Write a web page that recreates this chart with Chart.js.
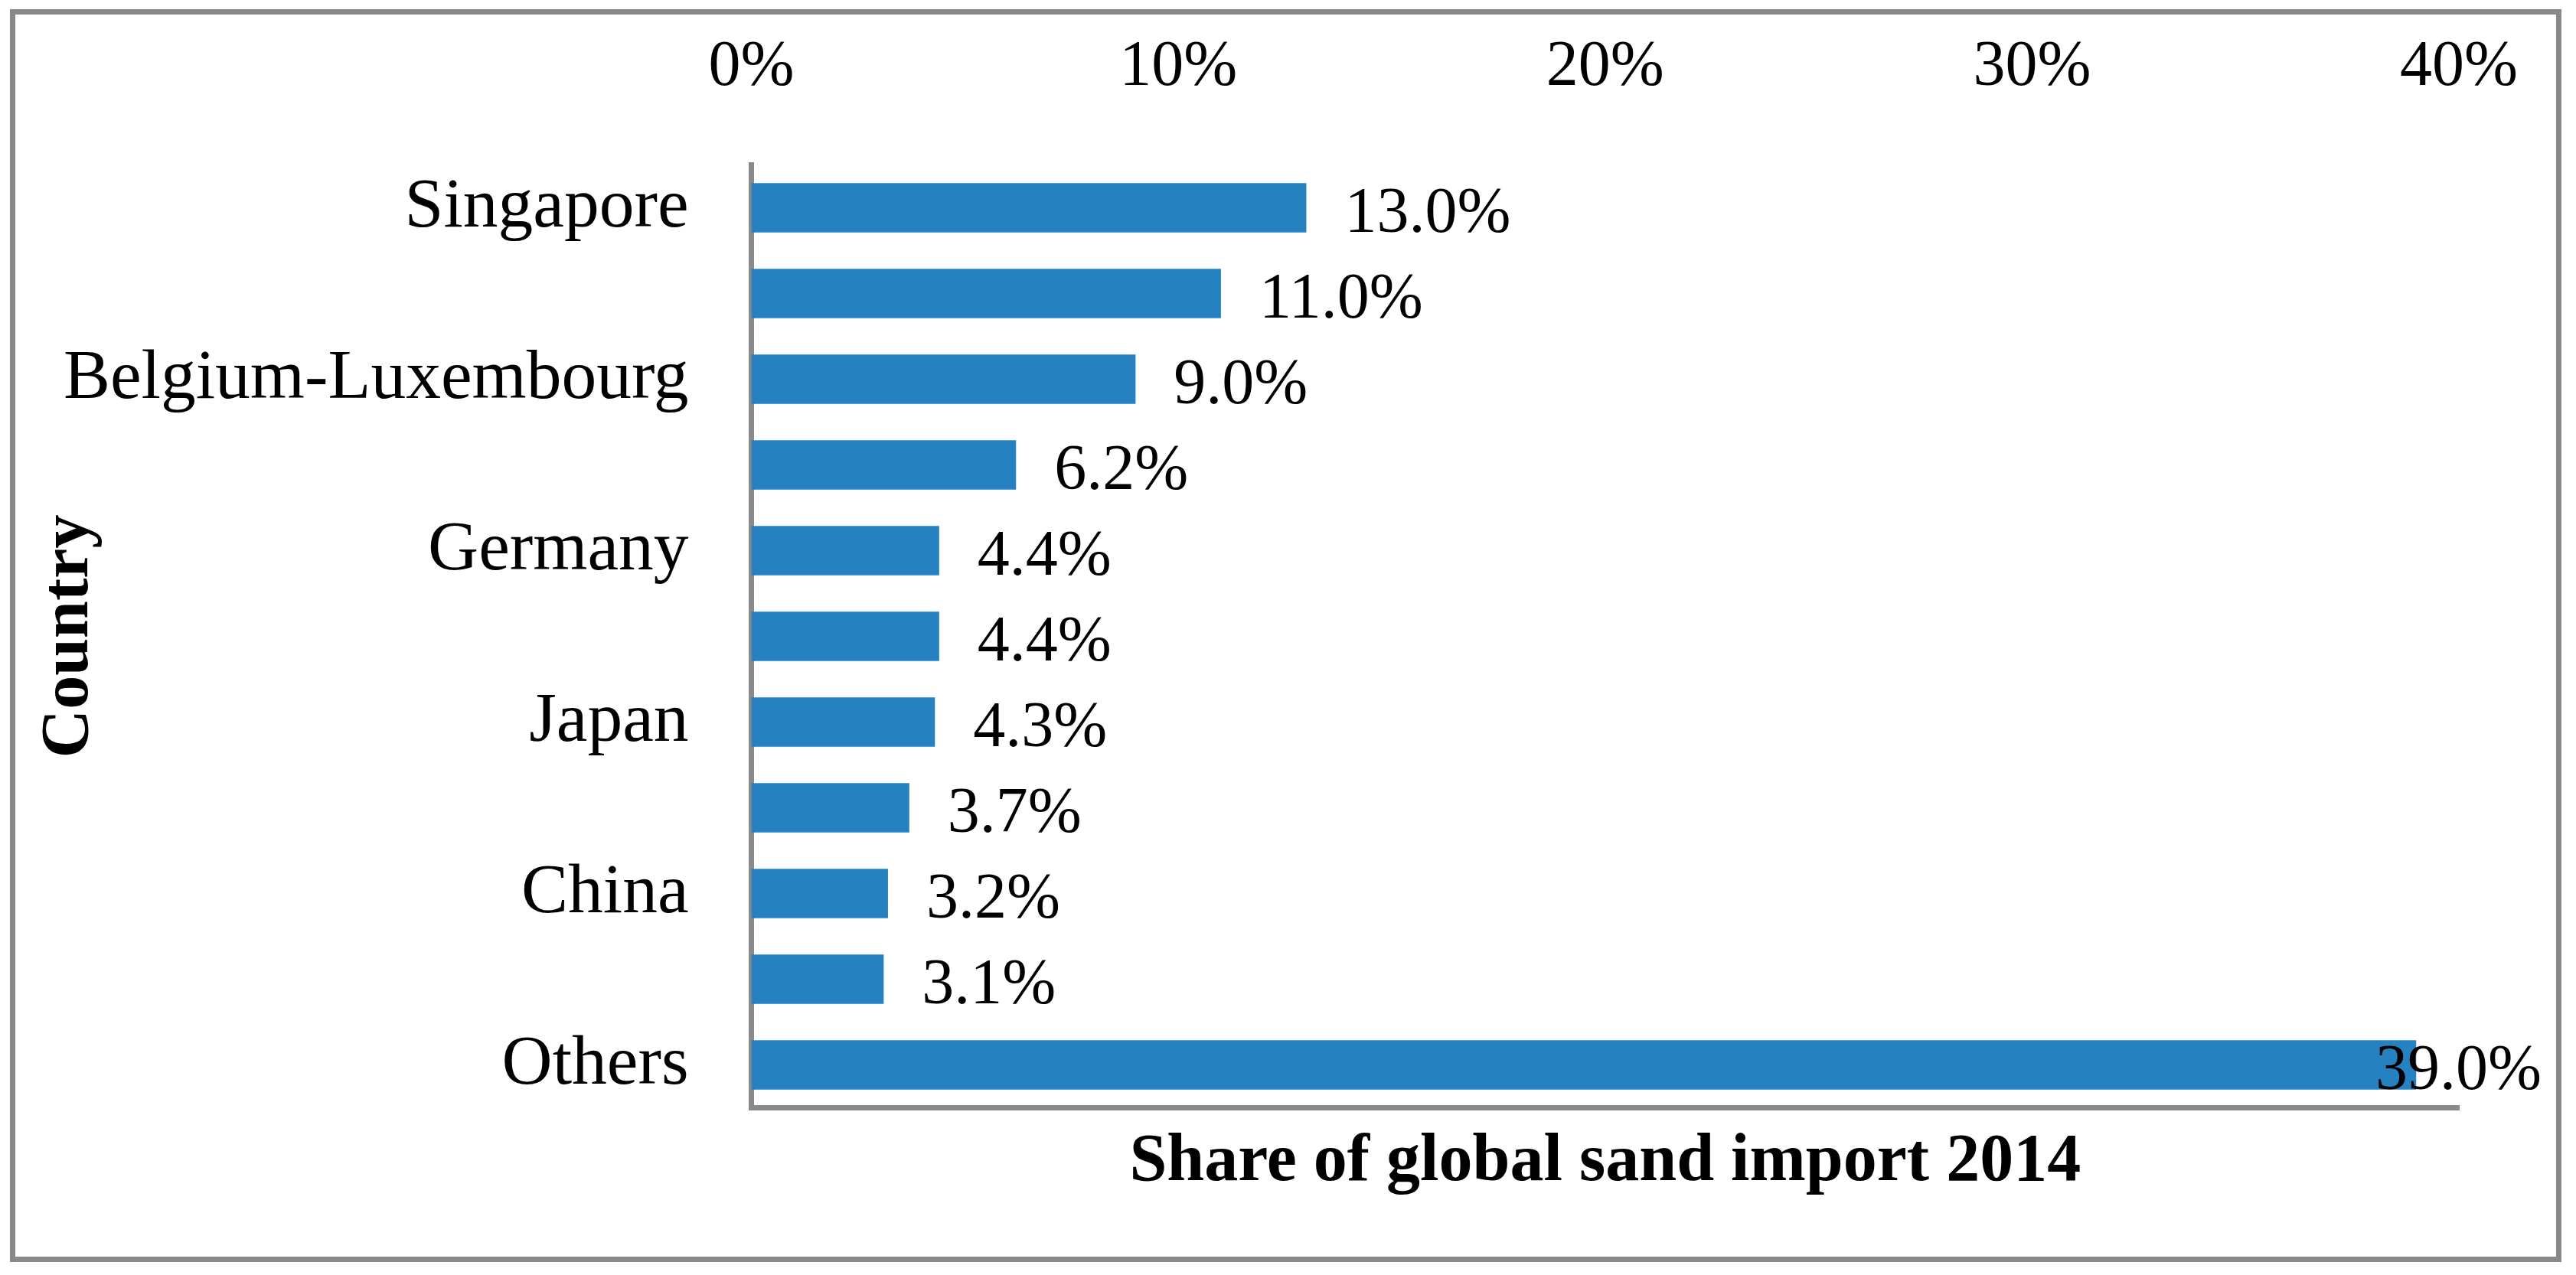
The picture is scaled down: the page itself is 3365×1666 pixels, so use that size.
<!DOCTYPE html>
<html>
<head>
<meta charset="utf-8">
<script src="https://cdn.jsdelivr.net/npm/chart.js@4/dist/chart.umd.min.js"></script>
<style>
  html, body { margin: 0; padding: 0; background: #fff; }
  canvas { display: block; }
</style>
</head>
<body>
<canvas id="myChart" width="3365" height="1666"></canvas>
<script>
// data
const countries = ['Singapore', '', 'Belgium-Luxembourg', '', 'Germany', '', 'Japan', '', 'China', '', 'Others'];
const shares = [13.0, 11.0, 9.0, 6.2, 4.4, 4.4, 4.3, 3.7, 3.2, 3.1, 39.0];
const xTicks = [0, 10, 20, 30, 40];

const barColor = '#2581c0';
const grey = '#898989';
const serif = "'Liberation Serif', 'DejaVu Serif', serif";

// cornice grigia attorno al grafico
const framePlugin = {
  id: 'frame',
  afterDraw: (chart) => {
    const { ctx } = chart;
    ctx.save();
    ctx.strokeStyle = grey;
    ctx.lineWidth = 7;
    ctx.strokeRect(16.5, 15.5, 3326, 1630);
    ctx.restore();
  }
};

// etichette valori a destra delle barre
const labelPlugin = {
  id: 'valueLabels',
  afterDatasetsDraw: (chart) => {
    const { ctx } = chart;
    const meta = chart.getDatasetMeta(0);
    ctx.save();
    ctx.font = '84px ' + serif;
    ctx.fillStyle = '#000';
    ctx.textAlign = 'left';
    ctx.textBaseline = 'alphabetic';
    meta.data.forEach((bar, i) => {
      const txt = shares[i].toFixed(1) + '%';
      const w = ctx.measureText(txt).width;
      let x = bar.x + 50;
      if (x + w > 3320) x = 3320 - w;   // come Excel: resta dentro l'area
      ctx.fillText(txt, x, bar.y + 31);
    });
    ctx.restore();
  }
};

new Chart('myChart', {
  type: 'bar',
  data: {
    labels: countries,
    datasets: [{
      data: shares,
      backgroundColor: barColor,
      borderWidth: 0,
      categoryPercentage: 1,
      barPercentage: 0.576
    }]
  },
  options: {
    indexAxis: 'y',
    responsive: false,
    animation: false,
    devicePixelRatio: 1,
    layout: { padding: { left: 0, right: 149, top: 0, bottom: 0 } },
    plugins: {
      legend: { display: false },
      tooltip: { enabled: false }
    },
    scales: {
      x: {
        position: 'top',
        min: 0,
        max: 40,
        afterBuildTicks: (scale) => { scale.ticks = xTicks.map(v => ({ value: v })); },
        afterFit: (scale) => { scale.height = 215.5; },
        grid: { display: false, drawTicks: false },
        border: { display: false },
        ticks: {
          padding: 76,
          color: '#000',
          font: { family: serif, size: 84 },
          callback: (v) => v + '%'
        }
      },
      x2: {
        type: 'linear',
        position: 'bottom',
        min: 0,
        max: 40,
        afterFit: (scale) => { scale.height = 218.5; },
        grid: { display: false, drawTicks: false },
        border: { display: true, color: grey, width: 7 },
        ticks: { display: false },
        title: {
          display: true,
          text: 'Share of global sand import 2014',
          color: '#000',
          font: { family: serif, size: 88, weight: 'bold' },
          padding: { top: 0, bottom: 94 }
        }
      },
      y: {
        z: 1,
        afterFit: (scale) => { scale.width = 981.5; },
        grid: { display: false, drawTicks: false },
        border: { display: true, color: grey, width: 7 },
        ticks: {
          autoSkip: false,
          padding: 82,
          color: '#000',
          font: { family: serif, size: 91.5 }
        },
        title: {
          display: true,
          text: 'Country',
          color: '#000',
          font: { family: serif, size: 88, weight: 'bold' },
          padding: { top: 38, bottom: 0 }
        }
      }
    }
  },
  plugins: [framePlugin, labelPlugin]
});
</script>
</body>
</html>
